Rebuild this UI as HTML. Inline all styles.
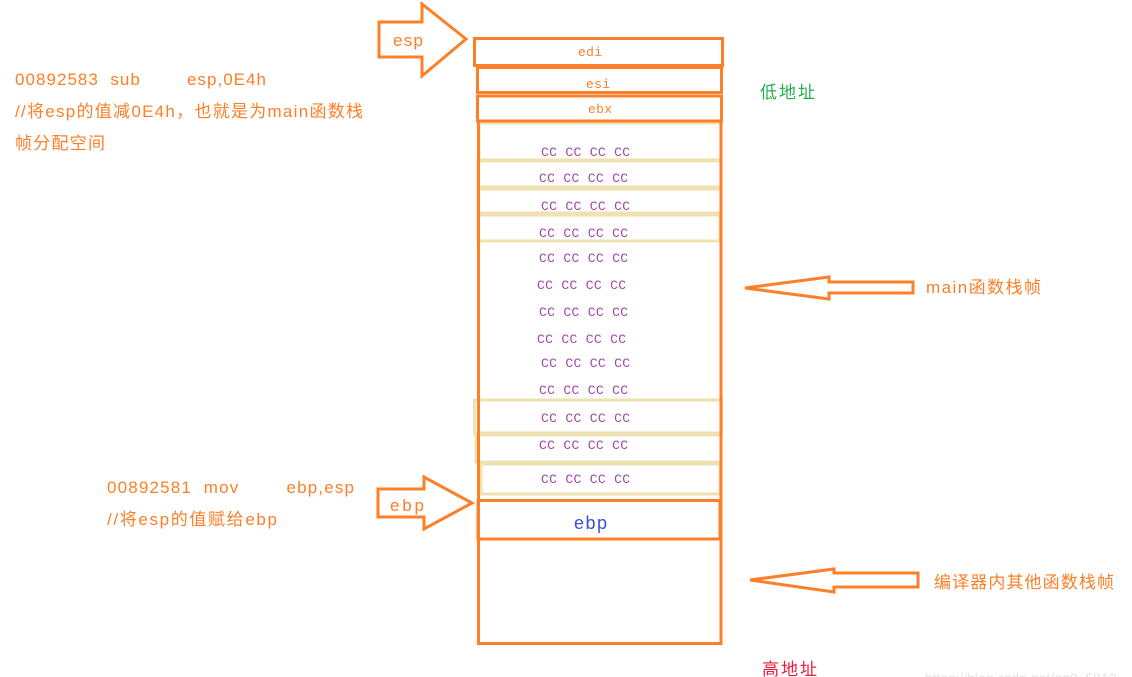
<!DOCTYPE html>
<html><head><meta charset="utf-8"><style>
html,body{margin:0;padding:0;background:#fff;width:1132px;height:677px;overflow:hidden}
svg{display:block}
.t{font-family:"Liberation Sans","Noto Sans CJK SC",sans-serif}
.cc{font-family:"Liberation Mono","DejaVu Sans Mono",monospace;font-size:13px;fill:#a347a8}
</style></head><body>
<svg width="1132" height="677" xmlns="http://www.w3.org/2000/svg">
<g fill="none" stroke-width="3">
<g stroke="#efe2b0">
<rect x="479" y="123" width="242" height="37"/>
<rect x="478" y="161" width="243" height="26"/>
<rect x="478" y="189" width="243" height="24"/>
<rect x="478" y="215" width="242" height="26"/>
<rect x="474.5" y="400" width="247" height="33"/>
<rect x="476" y="435" width="245" height="27"/>
<rect x="481" y="464" width="239" height="30"/>
</g>
<g stroke="#fd7f28">
<line x1="478.5" y1="122" x2="478.5" y2="645"/>
<line x1="721" y1="122" x2="721" y2="645"/>
<line x1="478" y1="643.5" x2="722" y2="643.5"/>
<rect x="474.5" y="38.5" width="248" height="27"/>
<rect x="477.5" y="67.5" width="244" height="25"/>
<rect x="477.5" y="96" width="244" height="25"/>
<rect x="478" y="500.5" width="242" height="38.5"/>
<polygon points="379,22 422,22 422,4 466,39 422,76 422,57 379,57"/>
<polygon points="378,489 424,489 424,477 472,503 424,529 424,517 378,517"/>
<polygon points="913,282 913,293 829,293 829,299 745,288 829,277 829,282"/>
<polygon points="918,573 918,587 834,587 834,592 750,580 834,569 834,573"/>
</g>
</g>
<g fill="#fd7f28" font-size="13" font-family="Liberation Mono,monospace">
<text x="578" y="56" textLength="24">edi</text>
<text x="586" y="88" textLength="24">esi</text>
<text x="588" y="113" textLength="24">ebx</text>
</g>
<g class="cc">
<text x="541" y="156" textLength="89">CC CC CC CC</text>
<text x="539" y="182" textLength="89">CC CC CC CC</text>
<text x="541" y="210" textLength="89">CC CC CC CC</text>
<text x="539" y="237" textLength="89">CC CC CC CC</text>
<text x="539" y="262" textLength="89">CC CC CC CC</text>
<text x="537" y="289" textLength="89">CC CC CC CC</text>
<text x="539" y="316" textLength="89">CC CC CC CC</text>
<text x="537" y="343" textLength="89">CC CC CC CC</text>
<text x="541" y="367" textLength="89">CC CC CC CC</text>
<text x="539" y="394" textLength="89">CC CC CC CC</text>
<text x="541" y="422" textLength="89">CC CC CC CC</text>
<text x="539" y="449" textLength="89">CC CC CC CC</text>
<text x="541" y="483" textLength="89">CC CC CC CC</text>
</g>
<g class="t" font-size="17">
<text x="393" y="46" fill="#fd7f28" textLength="30">esp</text>
<text x="390" y="511" fill="#fd7f28" textLength="34">ebp</text>
<text x="574" y="529" fill="#3b4fd8" font-size="18" textLength="33">ebp</text>
<text x="926" y="293" fill="#fd7f28" textLength="115">main函数栈帧</text>
<text x="934" y="588" fill="#fd7f28" textLength="180">编译器内其他函数栈帧</text>
<text x="760" y="98" fill="#22b04c" textLength="55">低地址</text>
<text x="762" y="675" fill="#ee1c3c" textLength="55">高地址</text>
<text x="15" y="85" fill="#fd7f28" xml:space="preserve" textLength="251">00892583  sub        esp,0E4h</text>
<text x="15" y="117" fill="#fd7f28" textLength="348">//将esp的值减0E4h，也就是为main函数栈</text>
<text x="15" y="149" fill="#fd7f28" textLength="90">帧分配空间</text>
<text x="107" y="493" fill="#fd7f28" xml:space="preserve" textLength="247">00892581  mov        ebp,esp</text>
<text x="107" y="525" fill="#fd7f28" textLength="170">//将esp的值赋给ebp</text>
<text x="925" y="683" fill="#e4e4e4" font-size="14">https://blog.csdn.net/qq0_5912</text>
</g>
</svg>
</body></html>
